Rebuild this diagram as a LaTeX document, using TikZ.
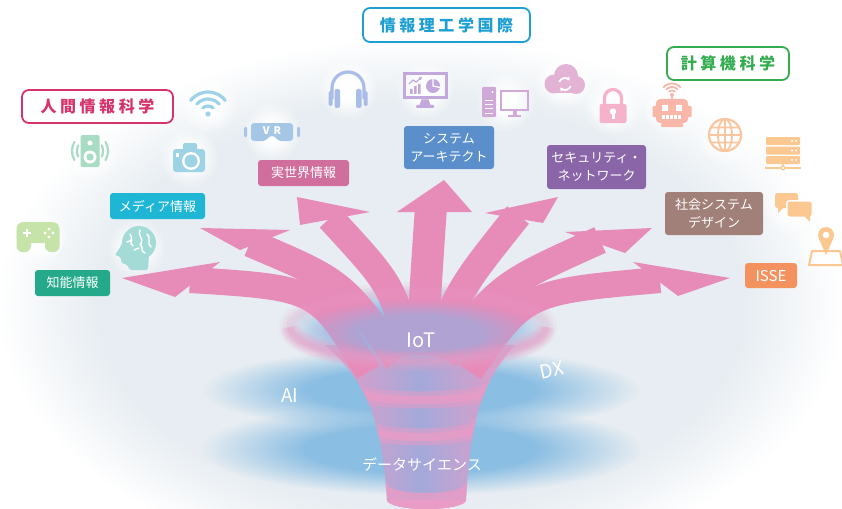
\documentclass[tikz,border=0pt]{standalone}
\usepackage{fontspec}
\newfontfamily\jp{Noto Sans CJK JP}
\newfontfamily\jpwide{Noto Sans CJK JP}[LetterSpace=22]
\usetikzlibrary{fadings,arrows.meta}

% palette
\definecolor{domec}{HTML}{E7EDF2}
\definecolor{diskblue}{HTML}{8BBEE3}
\definecolor{iotblue}{HTML}{9CCBEA}
\definecolor{lav}{HTML}{A3A9DA}
\definecolor{fpink}{HTML}{E99CC6}
\definecolor{apink}{HTML}{E78BB9}
\definecolor{cHuman}{HTML}{D6336C}
\definecolor{cIntl}{HTML}{1E9FD2}
\definecolor{cComp}{HTML}{34AC50}
\definecolor{cChino}{HTML}{25A98B}
\definecolor{cMedia}{HTML}{1FB6D6}
\definecolor{cJitsu}{HTML}{D06F9D}
\definecolor{cSys}{HTML}{5A8FCB}
\definecolor{cSec}{HTML}{8A65A8}
\definecolor{cSocial}{HTML}{A08078}
\definecolor{cIsse}{HTML}{F4925F}
\definecolor{iSpeaker}{HTML}{A8DCC4}
\definecolor{iWifi}{HTML}{9ED2EA}
\definecolor{iCam}{HTML}{9DD3E5}
\definecolor{iVR}{HTML}{A6C6E6}
\definecolor{iGame}{HTML}{C6E3A9}
\definecolor{iBrain}{HTML}{A5DBD6}
\definecolor{iPhone}{HTML}{A9BDE6}
\definecolor{iMon}{HTML}{C3A8DC}
\definecolor{iPC}{HTML}{D1A9D9}
\definecolor{iCloud}{HTML}{E3B3D5}
\definecolor{iLock}{HTML}{F4B3CB}
\definecolor{iRobot}{HTML}{F8B7A8}
\definecolor{iGlobe}{HTML}{F9C6A0}
\definecolor{iOrange}{HTML}{FBC892}

% soft backdrop and soft-edged discs
\pgfdeclareradialshading{domeshade}{\pgfpointorigin}{%
  color(0bp)=(domec); color(19bp)=(domec); color(25bp)=(white); color(50bp)=(white)}
\pgfdeclareradialshading{softshade}{\pgfpointorigin}{%
  color(0bp)=(white); color(13bp)=(white); color(25bp)=(black); color(50bp)=(black)}
\pgfdeclarefading{softdisk}{\pgfuseshading{softshade}}
\pgfdeclareradialshading{haloshade}{\pgfpointorigin}{%
  color(0bp)=(white); color(9bp)=(white); color(25bp)=(black); color(50bp)=(black)}
\pgfdeclarefading{halo}{\pgfuseshading{haloshade}}

\begin{document}
\begin{tikzpicture}[x=1pt,y=-1pt,
  course/.style={rounded corners=3pt, text=white, inner sep=0pt, align=center,
    font=\jp\fontsize{13}{18}\selectfont},
  faculty/.style={draw, line width=1.8pt, rounded corners=7pt, fill=white, inner sep=0pt,
    font=\jpwide\bfseries\fontsize{16}{18}\selectfont},
  keyword/.style={text=white, inner sep=0pt, font=\jp\fontsize{19}{19}\selectfont},
  shaft/.style={draw=apink, line cap=butt},
  glow/.style={white, path fading=halo, opacity=0.95},
  band/.style={fpink, line cap=round}
]
\useasboundingbox (0,0) rectangle (842,508);
\clip (0,0) rectangle (842,508);
\fill[white] (0,0) rectangle (842,508);

% backdrop dome
\shade[shading=domeshade] (421,305) ellipse (425 and 268);

% icon glows
\foreach \p in {(90,151),(208,104),(189,158),(272,132),(38,236),(136,248),(348,90),(425,90),(505,102),(564,80),(613,106),(672,106),(725,135),(783,152),(793,206),(826,246)}
  \fill[glow] \p circle (30);

% blue discs
\fill[diskblue, path fading=softdisk] (421,449) ellipse (220 and 46);
\fill[diskblue, path fading=softdisk] (421,390) ellipse (218 and 42);

% funnel body
\path[left color=fpink, right color=fpink, middle color=lav]
  (387,500) .. controls (382,430) and (372,385) .. (325,345)
  -- (515,345) .. controls (478,385) and (470,430) .. (466,500)
  arc[start angle=0, end angle=180, x radius=39.5, y radius=9];
\begin{scope}
  \clip (387,500) .. controls (382,430) and (372,385) .. (325,345)
    -- (515,345) .. controls (478,385) and (470,430) .. (466,500)
    arc[start angle=0, end angle=180, x radius=39.5, y radius=9];
  \foreach \cy/\rx in {388/72, 425/58} {
    \draw[band, line width=17, opacity=0.5] (421-\rx,\cy) arc[start angle=180, end angle=0, x radius=\rx, y radius=12];
    \draw[band, line width=8, opacity=0.75] (421-\rx,\cy) arc[start angle=180, end angle=0, x radius=\rx, y radius=12];
  }
  \draw[band, line width=18, opacity=0.8] (381,490) arc[start angle=180, end angle=0, x radius=45, y radius=12];
  \fill[fpink] (380,500) rectangle (470,510);
\end{scope}

% upper rim of the funnel
\fill[iotblue, path fading=softdisk] (418,327) ellipse (136 and 42);

% arrows
\draw[shaft, line width=26] (368,372) .. controls (318,288) .. (190,280);
\fill[apink] (122,278) -- (220,262) -- (175,297) -- cycle;
\draw[shaft, line width=28] (398,360) .. controls (342,282) .. (250,243);
\fill[apink] (200,228) -- (290,230) -- (240,250) -- cycle;
\draw[shaft, line width=28] (410,355) .. controls (392,285) .. (330,218);
\fill[apink] (297,197) -- (370,212) -- (300,225) -- cycle;
\draw[shaft, line width=32] (422,355) .. controls (426,280) .. (431,207);
\fill[apink] (444,180) -- (397,212) -- (472,212) -- cycle;
\draw[shaft, line width=28] (432,355) .. controls (462,285) .. (518,215);
\fill[apink] (558,197) -- (485,213) -- (543,223) -- cycle;
\draw[shaft, line width=28] (445,358) .. controls (500,285) .. (600,240);
\fill[apink] (652,228) -- (565,232) -- (625,253) -- cycle;
\draw[shaft, line width=26] (470,372) .. controls (525,292) .. (660,280);
\fill[apink] (730,278) -- (633,262) -- (678,296) -- cycle;

% veil over the arrow roots, with a soft pink rim
\fill[lav, path fading=softdisk, opacity=0.8] (418,333) ellipse (124 and 34);
\foreach \w/\o in {22/0.08, 15/0.1, 8/0.12}
  \draw[fpink, line width=\w, opacity=\o] (418,327) ellipse (128 and 34);
\foreach \w/\o in {18/0.18, 11/0.22, 5/0.25}
  \draw[fpink, line width=\w, opacity=\o] (290,327) arc[start angle=180, end angle=0, x radius=128, y radius=34];

% keywords
\node[keyword, font=\jp\fontsize{20}{20}\selectfont] (iot) at (421,340) {IoT};
\node[keyword] (ai) at (290,396) {AI};
\node[keyword, rotate=12] (dx) at (552,370) {DX};
\node[keyword, font=\jp\fontsize{15}{15}\selectfont] (ds) at (422,465) {データサイエンス};

% course labels
\node[course, fill=cChino, minimum width=75, minimum height=26] (chino) at (72.5,283) {知能情報};
\node[course, fill=cMedia, minimum width=95, minimum height=26] (media) at (157.5,206) {メディア情報};
\node[course, fill=cJitsu, minimum width=91, minimum height=26] (jitsu) at (303.5,173) {実世界情報};
\node[course, fill=cSys, minimum width=90, minimum height=43] (sys) at (449,147.5) {システム\\アーキテクト};
\node[course, fill=cSec, minimum width=99, minimum height=44] (sec) at (596.5,167) {セキュリティ・\\ネットワーク};
\node[course, fill=cSocial, minimum width=98, minimum height=43] (social) at (714,213.5) {社会システム\\デザイン};
\node[course, fill=cIsse, minimum width=52, minimum height=25, font=\jp\fontsize{15}{15}\selectfont] (isse) at (771,275.5) {ISSE};

% faculty labels
\node[faculty, draw=cHuman, text=cHuman, minimum width=151, minimum height=33] (human) at (97.5,106.5) {人間情報科学};
\node[faculty, draw=cIntl, text=cIntl, minimum width=167, minimum height=34] (intl) at (446.5,25) {情報理工学国際};
\node[faculty, draw=cComp, text=cComp, minimum width=122, minimum height=33] (comp) at (728,63.5) {計算機科学};

% ---------- icons ----------
% speaker
\begin{scope}[shift={(90,151)}, iSpeaker]
  \fill[rounded corners=2] (-9.5,-16) rectangle (9.5,16);
  \fill[white] (0,-8) circle (2.6);
  \fill[white] (0,6) circle (6.5);
  \fill (0,6) circle (3.6);
  \draw[line width=2.2, line cap=round] (-25:13) arc (-25:25:13) (-30:18) arc (-30:30:18)
    (155:13) arc (155:205:13) (150:18) arc (150:210:18);
\end{scope}
% wifi
\begin{scope}[shift={(208,114)}, iWifi, line width=3.2, line cap=round]
  \fill (0,0) circle (2.6);
  \draw (230:8) arc (230:310:8);
  \draw (222:15) arc (222:318:15);
  \draw (218:22) arc (218:322:22);
\end{scope}
% camera
\begin{scope}[shift={(189,158)}, iCam]
  \fill[rounded corners=3] (-16,-9) rectangle (16,14);
  \fill[rounded corners=2] (-6,-15) rectangle (8,-7);
  \fill[white] (2,3) circle (9);
  \fill (2,3) circle (6.5);
  \fill[white] (-13.5,-5) rectangle (-10.5,-1);
\end{scope}
% VR goggles
\begin{scope}[shift={(272,132)}, iVR]
  \fill[rounded corners=3] (-21,-9) -- (21,-9) -- (21,9) -- (6,9) -- (3,4) -- (-3,4) -- (-6,9) -- (-21,9) -- cycle;
  \fill[rounded corners=1] (-28,-5) rectangle (-25,5) (25,-5) rectangle (28,5);
  \node[text=white, inner sep=0pt, font=\jp\bfseries\fontsize{10.5}{10.5}\selectfont] (vrtext) at (0,-1.5) {V\hspace{4pt}R};
\end{scope}
% game controller
\begin{scope}[shift={(38,236)}, iGame]
  \fill[rounded corners=7] (-21.5,-14) rectangle (21.5,7);
  \fill[rounded corners=6] (-21.5,-4) rectangle (-7,16);
  \fill[rounded corners=6] (7,-4) rectangle (21.5,16);
  \draw[white, line width=2.6] (-15,-3) -- (-7,-3) (-11,-7) -- (-11,1);
  \fill[white] (11,-7) circle (1.7) (11,1) circle (1.7) (7,-3) circle (1.7) (15,-3) circle (1.7);
\end{scope}
% head with brain
\begin{scope}[shift={(136,248)}, iBrain]
  \fill (3,-5) circle (17);
  \fill[rounded corners=2] (-12,-12) -- (-15,-2) -- (-21,7) -- (-15,9) -- (-15,15) -- (-8,17) -- (-7,22) -- (12,22) -- (13,6) -- (14,-5) -- cycle;
  \draw[white, line width=1.4, line cap=round]
    (-6,-14) .. controls (-2,-10) and (-8,-6) .. (-3,-2)
    (4,-18) .. controls (1,-13) and (8,-10) .. (5,-4)
    (11,-14) .. controls (16,-9) and (10,-5) .. (15,-1)
    (-9,-6) -- (-4,-8)
    (4,-4) .. controls (8,0) and (4,3) .. (9,5)
    (-2,2) -- (3,0);
\end{scope}
% headphones
\begin{scope}[shift={(348,90)}, iPhone]
  \draw[line width=3.2] (-16,9) -- (-16,-2) arc (180:360:16) -- (16,9);
  \fill[rounded corners=1.5] (-19.5,1) rectangle (-15.5,16) (15.5,1) rectangle (19.5,16);
  \fill[rounded corners=2] (-13.5,-1) rectangle (-8,18) (8,-1) rectangle (13.5,18);
\end{scope}
% monitor with charts
\begin{scope}[shift={(425,86)}, iMon]
  \draw[line width=3] (-21,-12) rectangle (21,12);
  \fill (-3.5,13.5) -- (3.5,13.5) -- (5.5,19) -- (-5.5,19) -- cycle;
  \fill[rounded corners=1] (-9,19) rectangle (9,22);
  \fill (-15,3) rectangle (-12.5,8) (-11,0) rectangle (-8.5,8) (-7,-2) rectangle (-4.5,8);
  \draw[line width=1.2, -{Triangle[length=3pt,width=3.5pt]}] (-16,-2) -- (-12,-6) -- (-9,-4) -- (-3,-9);
  \fill (8,0) circle (7);
  \draw[white, line width=1.3] (8,-7.5) -- (8,0) -- (15.5,1.5);
\end{scope}
% desktop computer
\begin{scope}[shift={(505,102)}, iPC]
  \fill[rounded corners=1] (-23,-15) rectangle (-9,15);
  \draw[white, line width=1] (-20,-1) -- (-12,-1) (-20,3) -- (-12,3) (-20,7) -- (-12,7) (-20,11) -- (-12,11);
  \fill[white] (-12.5,-10) circle (1.2);
  \draw[line width=2.5] (-4,-11) rectangle (23,8);
  \fill (7.5,9) rectangle (11.5,13);
  \fill (3,12.5) rectangle (16,14.5);
\end{scope}
% cloud sync
\begin{scope}[shift={(564,80)}, iCloud]
  \fill (-10,4) circle (9.5) (2,-4) circle (12) (12,5) circle (9);
  \fill (-10,0) rectangle (12,13.5);
  \draw[white, line width=1.8, -{Triangle[length=3pt,width=4pt]}] (1,4) ++(200:6) arc (200:320:6);
  \draw[white, line width=1.8, -{Triangle[length=3pt,width=4pt]}] (1,4) ++(20:6) arc (20:140:6);
\end{scope}
% padlock
\begin{scope}[shift={(613,108)}, iLock]
  \draw[line width=3.3] (-8.5,-3) -- (-8.5,-10) arc (180:360:8.5) -- (8.5,-3);
  \fill[rounded corners=2] (-13.5,-4) rectangle (13.5,15);
  \fill[white] (0,3.5) circle (3.2);
  \fill[white] (-1.5,4) rectangle (1.5,10.5);
\end{scope}
% robot
\begin{scope}[shift={(672,110)}, iRobot]
  \draw[line width=1.8, line cap=round] (0,-15) ++(232:4.5) arc (232:308:4.5);
  \draw[line width=1.8, line cap=round] (0,-15) ++(226:8) arc (226:314:8);
  \draw[line width=1.8, line cap=round] (0,-15) ++(222:11.5) arc (222:318:11.5);
  \draw[line width=2] (0,-11) -- (0,-15);
  \fill (0,-15) circle (2);
  \fill[rounded corners=4] (-16,-11) rectangle (16,13);
  \fill[rounded corners=1] (-11,13) rectangle (11,17);
  \fill[rounded corners=1] (-19.5,-4) rectangle (-15,7) (15,-4) rectangle (19.5,7);
  \fill[white] (-10,-5) rectangle (-4,1) (4,-5) rectangle (10,1);
  \foreach \mx in {-10,-6,-2,2,6} \fill[white] (\mx,5) rectangle (\mx+3,9);
\end{scope}
% globe
\begin{scope}[shift={(725,135)}, iGlobe]
  \draw[line width=2.2] (0,0) circle (16);
  \draw[line width=1.8] (0,0) ellipse (7 and 16) (0,-16) -- (0,16) (-16,0) -- (16,0)
    (-14,-7.5) -- (14,-7.5) (-14,7.5) -- (14,7.5);
\end{scope}
% server rack
\begin{scope}[shift={(783,151)}, iOrange]
  \foreach \ty in {-14,-4.5,5} {
    \fill[rounded corners=1] (-17,\ty) rectangle (17,\ty+8);
    \fill[white] (9,\ty+4) circle (1.1) (13,\ty+4) circle (1.1);
  }
  \draw[line width=1.5] (0,13) -- (0,17) (-18,17) -- (18,17);
  \filldraw[fill=white, line width=1.2] (0,17) circle (2);
\end{scope}
% chat bubbles
\begin{scope}[shift={(793,205)}, iOrange]
  \fill[rounded corners=2.5] (-18,-12) rectangle (5,3);
  \fill (-15,2) -- (-9,2) -- (-15,8) -- cycle;
  \fill[white, rounded corners=3.5] (-7,-5) rectangle (20,13);
  \fill[rounded corners=2.5] (-5.5,-3.5) rectangle (18.5,11.5);
  \fill (11,11) -- (17,11) -- (17,17) -- cycle;
\end{scope}
% map pin
\begin{scope}[shift={(826,246)}, iOrange]
  \draw[line width=2, line join=round] (-14,5) -- (14,5) -- (17,19) -- (-17,19) -- cycle;
  \fill[white] (0,-11) circle (10);
  \fill (0,-11) circle (8);
  \fill (-7,-7) -- (0,9) -- (7,-7) -- cycle;
  \fill[white] (0,-11) circle (3.3);
\end{scope}
\end{tikzpicture}
\end{document}
